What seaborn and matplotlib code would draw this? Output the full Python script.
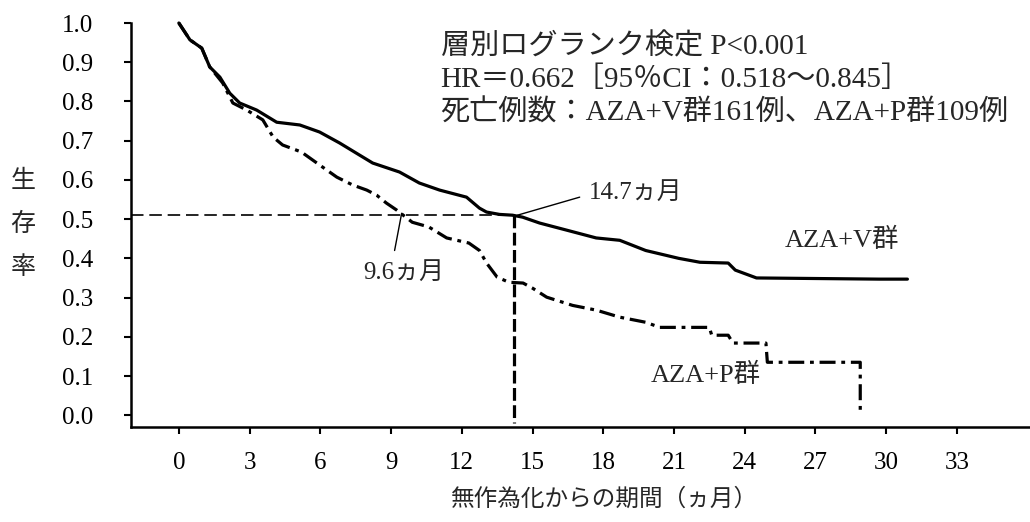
import numpy as np
import pandas as pd
import matplotlib
matplotlib.use("Agg")
import matplotlib.pyplot as plt
import seaborn as sns

# ---- data ----
v_time = [0, 0.47, 0.97, 1.31, 1.74, 2.16, 2.58, 3.3, 4.15, 5.13, 5.97, 6.82, 7.67,
          8.22, 9.36, 9.96, 10.2, 11.06, 12.2, 12.75, 13.05, 13.6, 14.15, 14.58, 15.3,
          16.44, 17.7, 18.7, 19.8, 21.2, 22.1, 23.3, 23.6, 24.5, 29.7, 30.9]
v_surv = [1.0, 0.957, 0.936, 0.888, 0.862, 0.821, 0.796, 0.778, 0.747, 0.74, 0.722,
          0.694, 0.663, 0.643, 0.62, 0.60, 0.592, 0.574, 0.556, 0.528, 0.518, 0.512,
          0.51, 0.505, 0.49, 0.472, 0.452, 0.446, 0.42, 0.40, 0.39, 0.388, 0.37, 0.35,
          0.347, 0.347]

p_time = [0, 0.47, 0.97, 1.31, 1.86, 2.29, 2.88, 3.56, 4.0, 4.4, 5.2, 5.97, 6.7, 7.37,
          7.97, 8.39, 8.8, 9.24, 9.9, 10.6, 11.36, 12.3, 12.75, 13.05, 13.5, 14.0, 14.6,
          15.0, 15.6, 16.7, 17.7, 18.7, 19.8, 20.4, 22.5, 22.6, 23.3, 23.5, 24.9, 24.96,
          28.9, 28.9]
p_surv = [1.0, 0.957, 0.936, 0.888, 0.847, 0.796, 0.778, 0.753, 0.709, 0.689, 0.671,
          0.638, 0.607, 0.587, 0.574, 0.561, 0.541, 0.523, 0.492, 0.48, 0.452, 0.439,
          0.42, 0.388, 0.352, 0.339, 0.337, 0.324, 0.301, 0.28, 0.268, 0.25, 0.237,
          0.224, 0.224, 0.204, 0.204, 0.184, 0.184, 0.135, 0.135, 0.005]

median_level = 0.51
median_v_drawn = 14.2
median_p_drawn = 9.45
median_v_label = "14.7ヵ月"
median_p_label = "9.6ヵ月"
group_v = "AZA+V群"
group_p = "AZA+P群"
stats_lines = ["層別ログランク検定 P<0.001",
               "HR＝0.662［95％CI：0.518～0.845］",
               "死亡例数：AZA+V群161例、AZA+P群109例"]
x_ticks = list(range(0, 34, 3))
y_ticks = [round(0.1 * i, 1) for i in range(11)]
x_label = "無作為化からの期間（ヵ月）"
y_label = "生\n存\n率"

# ---- styling ----
sns.set_theme(style="ticks")
plt.rcParams["font.family"] = ["Liberation Serif", "Noto Sans CJK JP", "DejaVu Sans"]

W, H = 1030, 522
fig = plt.figure(figsize=(W / 100, H / 100), dpi=100)
ax = fig.add_axes([131 / W, 1 - 427 / H, 1 - 131 / W, (427 - 23) / H])

df_v = pd.DataFrame({"t": v_time, "s": v_surv})
df_p = pd.DataFrame({"t": p_time, "s": p_surv})

sns.lineplot(data=df_p, x="t", y="s", ax=ax, estimator=None, sort=False,
             color="black", lw=2.3, linestyle=(0, (5, 1.8, 1.2, 1.8)), clip_on=False)
sns.lineplot(data=df_v, x="t", y="s", ax=ax, estimator=None, sort=False,
             color="black", lw=2.3, clip_on=False)

ax.set_xlim(-2.03, 36.1)
ax.set_ylim(-0.03, 1.0)

# median guide lines
x0 = ax.get_xlim()[0]
ax.plot([x0, median_v_drawn], [median_level, median_level], color="black",
        lw=1.2, linestyle=(0, (7.5, 3.5)))
ax.plot([median_v_drawn, median_v_drawn], [median_level, -0.02], color="black",
        lw=2.3, linestyle=(0, (4, 1.4)))

# leader lines + labels
ax.plot([14.36, 17.0], [median_level, 0.556], color="black", lw=1.0)
ax.text(17.4, 0.566, median_v_label, fontsize=18, ha="left", va="center")
ax.plot([median_p_drawn, 9.15], [median_level + 0.005, 0.42], color="black", lw=1.0)
ax.text(9.55, 0.362, median_p_label, fontsize=18, ha="center", va="center")

ax.text(25.7, 0.446, group_v, fontsize=19, ha="left", va="center")
ax.text(20.0, 0.102, group_p, fontsize=19, ha="left", va="center")

for line, yy in zip(stats_lines, [0.939, 0.855, 0.771]):
    ax.text(11.1, yy, line, fontsize=21, ha="left", va="center")

# axes / ticks
ax.set_xticks(x_ticks)
ax.set_xticklabels([str(v) for v in x_ticks])
ax.set_yticks(y_ticks)
ax.set_yticklabels([f"{v:.1f}" for v in y_ticks])
ax.tick_params(axis="x", direction="out", length=5, width=1.5, colors="black",
               labelsize=18, pad=13)
ax.tick_params(axis="y", direction="out", length=5, width=1.5, colors="black",
               labelsize=18, pad=22)
for side in ["top", "right"]:
    ax.spines[side].set_visible(False)
for side in ["left", "bottom"]:
    ax.spines[side].set_color("black")
    ax.spines[side].set_linewidth(1.8)

ax.set_xlabel(x_label, fontsize=17)
ax.xaxis.set_label_coords((605 - 131) / 899, -(500 - 427) / 404)
ax.xaxis.label.set_va("center")
ax.set_ylabel(y_label, fontsize=18, rotation=0, linespacing=2.1, va="center", ha="center")
ax.yaxis.set_label_coords((23 - 131) / 899, 0.5)

fig.savefig("out.png", dpi=100)
